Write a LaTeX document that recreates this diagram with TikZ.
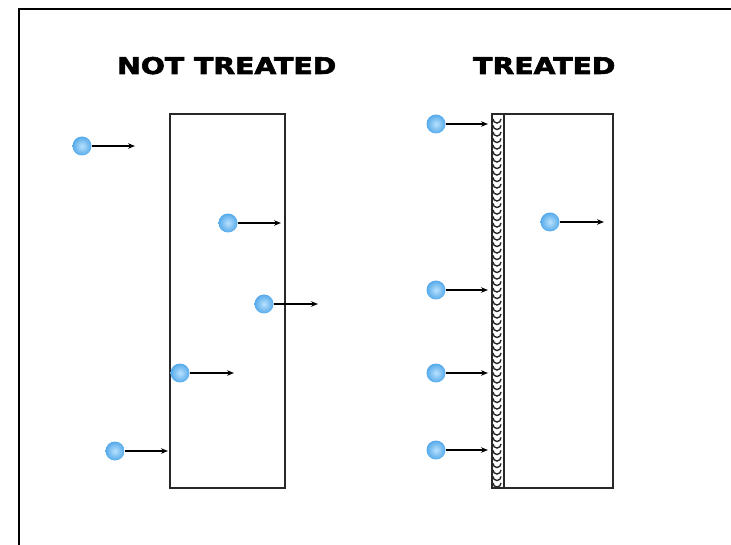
\documentclass[tikz,border=0pt]{standalone}
\usepackage{fontspec}
\usepackage{graphicx}
\newfontfamily\titlefont{DejaVu Sans Bold}[FakeBold=2.4]
\usetikzlibrary{arrows.meta}
\definecolor{ballin}{RGB}{185,225,252}
\definecolor{ballout}{RGB}{85,170,235}
\definecolor{boxline}{RGB}{40,40,40}
\begin{document}
\begin{tikzpicture}[x=1pt,y=-1pt,
  ball/.style={circle,minimum size=19pt,inner sep=0pt,shade,inner color=ballin,outer color=ballout},
  arr/.style={line width=1.8pt,-{Stealth[length=7pt,width=5.5pt]}},
  boxnode/.style={draw=boxline,line width=2pt,inner sep=0pt,anchor=north west},
  title/.style={anchor=base west,inner sep=0pt}]
\useasboundingbox (0,0) rectangle (731,545);
\fill[white] (0,0) rectangle (731,545);
% frame (top and left edges only visible)
\draw[line width=2.4pt] (19,545) -- (19,9) -- (731,9);
% titles
\node[title] (t1) at (117,74) {\scalebox{1.23}[1]{\titlefont\fontsize{23}{28}\selectfont NOT TREATED}};
\node[title] (t2) at (473,74) {\scalebox{1.23}[1]{\titlefont\fontsize{23}{28}\selectfont TREATED}};
% boxes
\node[boxnode,minimum width=115pt,minimum height=374pt] (L) at (169,113) {};
\node[boxnode,minimum width=121pt,minimum height=374pt] (R) at (491,113) {};
% treated coating strip
\node[boxnode,minimum width=12pt,minimum height=374pt,fill=white] (S) at (491,113) {};
\foreach \k in {0,...,56}{
  \draw[line width=1.4pt,boxline] ({493},{119+6.5*\k}) arc[start angle=180,end angle=0,radius=4];
}
% left balls
\node[ball] (a1) at (82,146) {};
\node[ball] (a2) at (228,223) {};
\node[ball] (a3) at (264,304) {};
\node[ball] (a4) at (180,373) {};
\node[ball] (a5) at (115,451) {};
\coordinate (ea1) at (135,146);
\coordinate (ea2) at (281,223);
\coordinate (ea3) at (318,304);
\coordinate (ea4) at (234,373);
\coordinate (ea5) at (168,451);
\foreach \i in {1,...,5}{\draw[arr] (a\i.east) -- (ea\i);}
% right balls
\node[ball] (b1) at (436,124) {};
\node[ball] (b2) at (550,222) {};
\node[ball] (b3) at (436,290) {};
\node[ball] (b4) at (436,373) {};
\node[ball] (b5) at (436,450) {};
\coordinate (eb1) at (488,124);
\coordinate (eb2) at (604,222);
\coordinate (eb3) at (488,290);
\coordinate (eb4) at (488,373);
\coordinate (eb5) at (488,450);
\foreach \i in {1,...,5}{\draw[arr] (b\i.east) -- (eb\i);}
\end{tikzpicture}
\end{document}
